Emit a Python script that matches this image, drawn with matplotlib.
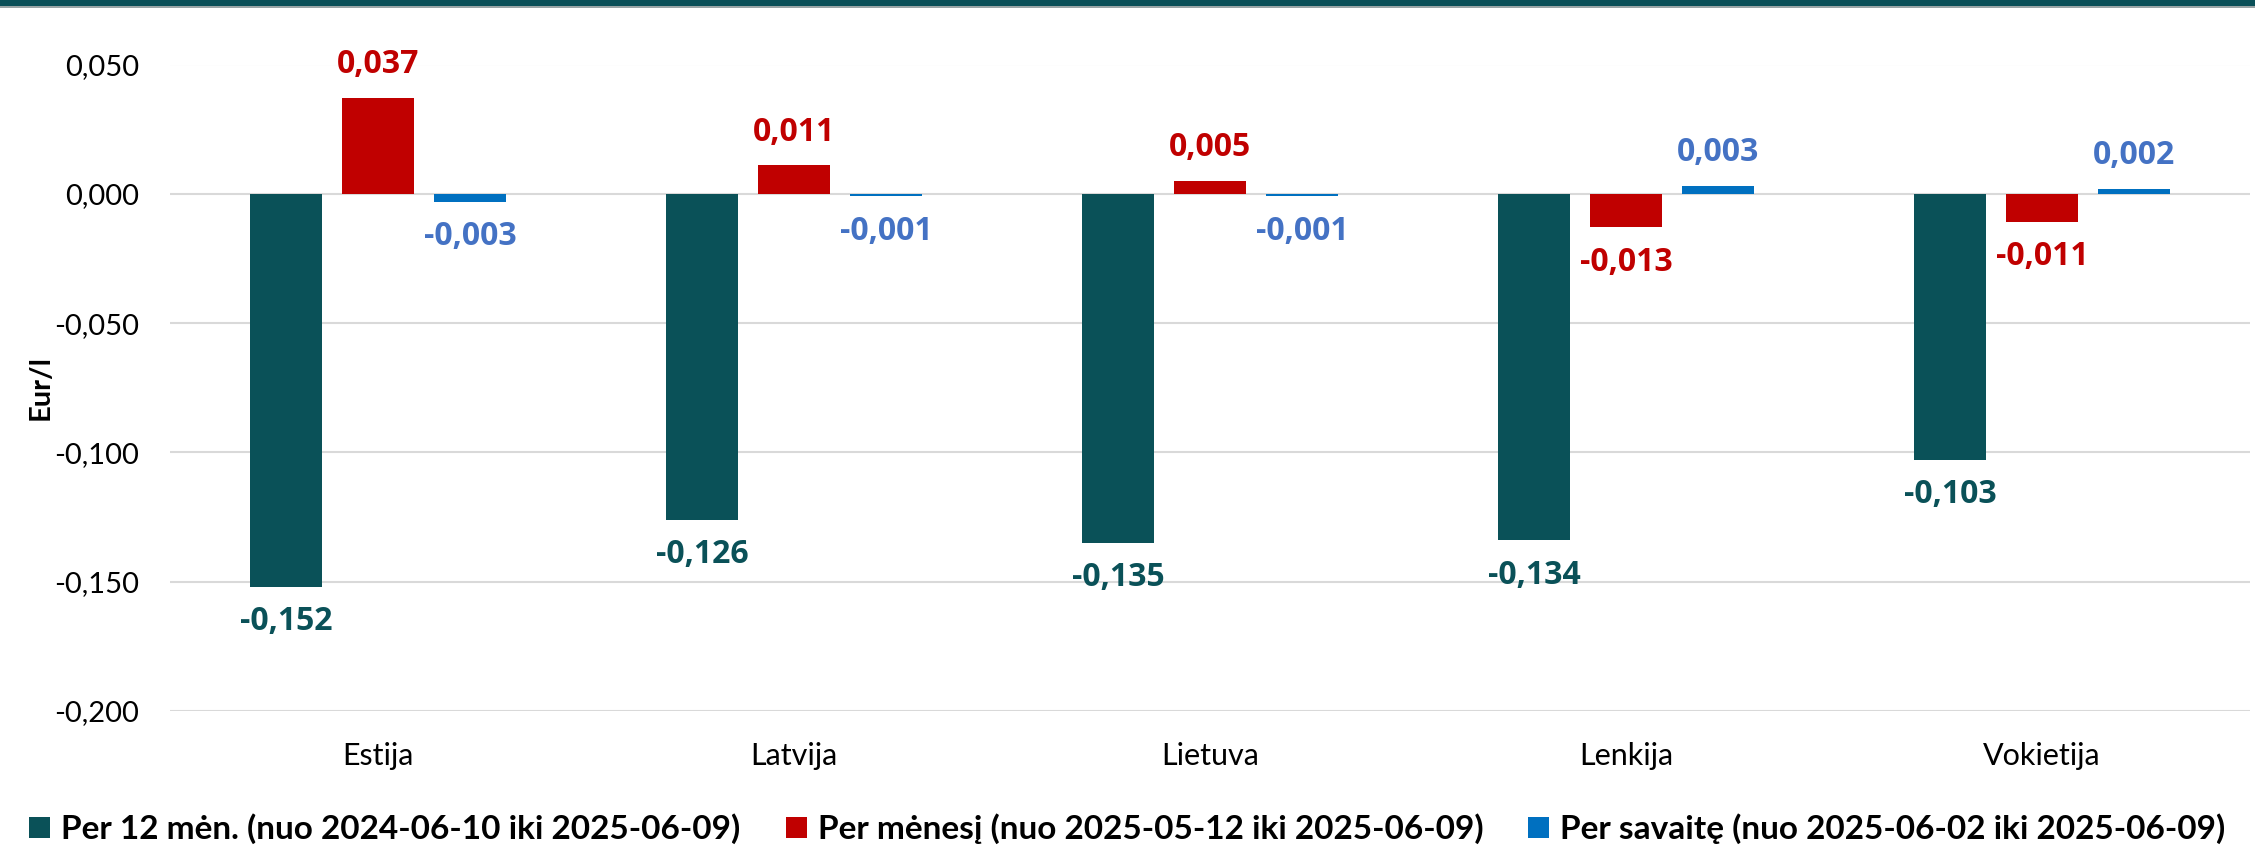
import matplotlib
matplotlib.use("Agg")
import matplotlib.pyplot as plt
from matplotlib.patches import Patch, Rectangle
from matplotlib.ticker import FuncFormatter
import numpy as np

categories = ["Estija", "Latvija", "Lietuva", "Lenkija", "Vokietija"]
series_names = [
    "Per 12 mėn. (nuo 2024-06-10 iki 2025-06-09)",
    "Per mėnesį (nuo 2025-05-12 iki 2025-06-09)",
    "Per savaitę (nuo 2025-06-02 iki 2025-06-09)",
]
per_12m = [-0.152, -0.126, -0.135, -0.134, -0.103]
per_month = [0.037, 0.011, 0.005, -0.013, -0.011]
per_week = [-0.003, -0.001, -0.001, 0.003, 0.002]
yticks = [0.05, 0.0, -0.05, -0.10, -0.15, -0.20]
ylabel = "Eur/l"

bar_colors = ["#0A5158", "#C00000", "#0070C0"]
label_colors = ["#0A5158", "#C00000", "#4472C4"]

W, H = 2255, 848
dpi = 100
fig = plt.figure(figsize=(W / dpi, H / dpi), dpi=dpi)
fig.patch.set_facecolor("white")

# top band
fig.add_artist(Rectangle((0, 1 - 6 / H), 1, 6 / H, transform=fig.transFigure,
                         facecolor="#0A5058", edgecolor="none"))
fig.add_artist(Rectangle((0, 1 - 8 / H), 1, 2 / H, transform=fig.transFigure,
                         facecolor="#9AA5A6", edgecolor="none"))

left, right = 170, 2250
top, bottom = 64.5, 711
ax = fig.add_axes([left / W, 1 - bottom / H, (right - left) / W, (bottom - top) / H])

x = np.arange(len(categories))
step = 0.221
width = 0.174
series = [per_12m, per_month, per_week]
for i, (vals, c, lc) in enumerate(zip(series, bar_colors, label_colors)):
    xs = x + (i - 1) * step
    ax.bar(xs, vals, width=width, color=c, zorder=3, label=series_names[i])
    for xi, v in zip(xs, vals):
        off = 24 if v >= 0 else -25
        ax.annotate(f"{v:.3f}".replace(".", ","), (xi, v), xytext=(0, off),
                    textcoords="offset points", ha="center", va="center",
                    fontsize=23, fontweight="bold", color=lc,
                    family=["Open Sans", "DejaVu Sans"], annotation_clip=False)

ax.set_xlim(-0.5, len(categories) - 0.5)
ax.set_ylim(-0.2, 0.05)
ax.set_yticks(yticks)
ax.yaxis.set_major_formatter(FuncFormatter(lambda v, p: f"{v:.3f}".replace(".", ",")))
ax.set_xticks(x)
ax.set_xticklabels(categories)
ax.grid(axis="y", color="#D9D9D9", linewidth=1.5, zorder=0)
ax.set_axisbelow(True)
for s in ax.spines.values():
    s.set_visible(False)
ax.tick_params(axis="both", length=0, colors="black")
ax.tick_params(axis="y", pad=22, labelsize=21)
ax.tick_params(axis="x", pad=22, labelsize=22)
for lab in ax.get_xticklabels() + ax.get_yticklabels():
    lab.set_family(["Lato", "DejaVu Sans"])
ax.set_ylabel(ylabel, fontsize=21, fontweight="bold", family=["Lato", "DejaVu Sans"])
ax.yaxis.set_label_coords(-(170 - 54) / (right - left), 0.5)

handles = [Patch(facecolor=c, edgecolor="none") for c in bar_colors]
leg = fig.legend(handles, series_names, loc="center", bbox_to_anchor=(0.5, 1 - 829 / H),
                 ncol=3, frameon=False,
                 prop={"family": ["Lato", "DejaVu Sans"], "weight": "bold", "size": 24},
                 handlelength=0.63, handleheight=0.6, handletextpad=0.33,
                 columnspacing=1.35, borderpad=0, borderaxespad=0)

fig.savefig("out.png", dpi=dpi, facecolor="white")
